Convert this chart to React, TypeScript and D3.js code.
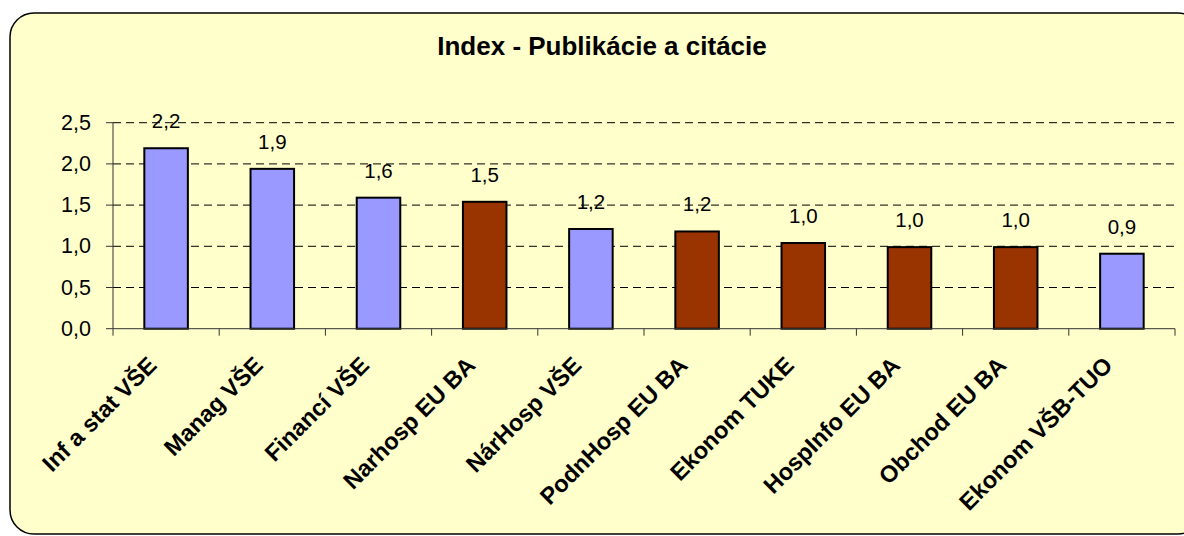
import React from 'react';
import * as d3 from 'd3';

const categories = [
  'Inf a stat VŠE', 'Manag VŠE', 'Financí VŠE', 'Narhosp EU BA', 'NárHosp VŠE',
  'PodnHosp EU BA', 'Ekonom TUKE', 'HospInfo EU BA', 'Obchod EU BA', 'Ekonom VŠB-TUO',
];
const values = [2.19, 1.94, 1.59, 1.54, 1.21, 1.18, 1.04, 0.99, 0.99, 0.91];
// 'a' = blue bars, 'b' = brown bars
const groups = ['a', 'a', 'a', 'b', 'a', 'b', 'b', 'b', 'b', 'a'];
const yTicks = [0, 0.5, 1, 1.5, 2, 2.5];

const colors: Record<string, string> = { a: '#9999FF', b: '#993300' };

const W = 1184;
const H = 536;
const left = 113;
const right = 1175;
const top = 122.7;
const bottom = 328.7;

const fmt = (v: number) => v.toFixed(1).replace('.', ',');

export default function App() {
  const x = d3.scaleBand<string>().domain(categories).range([left, right]).paddingInner(0.59).paddingOuter(0.295);
  const xb = d3.scaleBand<string>().domain(categories).range([left, right]);
  const y = d3.scaleLinear().domain([0, 2.5]).range([bottom, top]);

  const font = 'Arial, "Liberation Sans", sans-serif';

  return (
    <svg width={W} height={H} style={{ position: 'absolute', left: 0, top: 0 }} fontFamily={font}>
      <rect x={0} y={0} width={W} height={H} fill="#fff" />
      <rect x={10} y={13} width={1192} height={521} rx={24} fill="#FFFFCC" stroke="#000" strokeWidth={1.5} />
      <text x={602} y={55} textAnchor="middle" fontSize={26} fontWeight="bold">
        Index - Publikácie a citácie
      </text>

      {yTicks.filter(t => t > 0).map(t => (
        <line key={'g' + t} x1={left} x2={right} y1={y(t)} y2={y(t)} stroke="#000" strokeWidth={1} strokeDasharray="8,5" />
      ))}

      {categories.map((c, i) => (
        <g key={c}>
          <rect
            x={x(c)}
            y={y(values[i])}
            width={x.bandwidth()}
            height={bottom - y(values[i])}
            fill={colors[groups[i]]}
            stroke="#000"
            strokeWidth={2}
          />
          <text x={x(c)! + x.bandwidth() / 2} y={y(values[i]) - 20} textAnchor="middle" fontSize={20.5}>
            {fmt(values[i])}
          </text>
        </g>
      ))}

      <line x1={left} x2={left} y1={top} y2={bottom} stroke="#333" strokeWidth={1} />
      <line x1={left} x2={right} y1={bottom} y2={bottom} stroke="#333" strokeWidth={1} />
      {yTicks.map(t => (
        <g key={'t' + t}>
          <line x1={left - 7} x2={left} y1={y(t)} y2={y(t)} stroke="#333" />
          <text x={left - 22} y={y(t) + 7} textAnchor="end" fontSize={21.5}>{fmt(t)}</text>
        </g>
      ))}
      {categories.concat(['end']).map((c, i) => {
        const xx = i < categories.length ? xb(c)! : right;
        return <line key={'xt' + i} x1={xx} x2={xx} y1={bottom} y2={bottom + 7} stroke="#333" />;
      })}
      {categories.map(c => {
        const cx = xb(c)! + xb.bandwidth() / 2 - 8;
        const cy = bottom + 38;
        return (
          <text key={'l' + c} transform={`translate(${cx},${cy}) rotate(-45)`} textAnchor="end" fontSize={23.5} fontWeight="bold">
            {c}
          </text>
        );
      })}
    </svg>
  );
}
